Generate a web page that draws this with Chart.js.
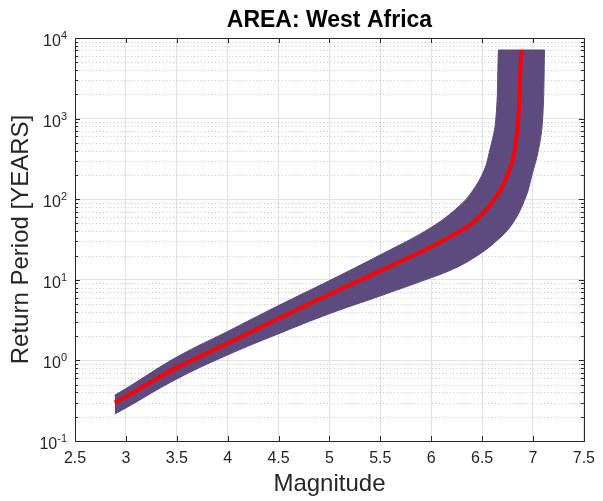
<!DOCTYPE html>
<html lang="en">
<head>
  <meta charset="UTF-8">
  <title>AREA: West Africa</title>
  <script src="https://cdn.jsdelivr.net/npm/chart.js@4.4.1/dist/chart.umd.min.js"></script>
  <style>
    body { margin: 0; background: #fff; }
    .wrap { width: 603px; height: 501px; position: relative; }
  </style>
</head>
<body>
  <div class="wrap"><canvas id="rp"></canvas></div>
  <script>
    // return period curve (red) - magnitude vs years
    const centerM = [2.89, 3.0, 3.25, 3.5, 3.75, 4.0, 4.25, 4.5, 5.0, 5.5, 6.0, 6.25, 6.44, 6.59, 6.68, 6.77, 6.82, 6.855, 6.884];
    const centerT = [0.30, 0.355, 0.543, 0.813, 1.15, 1.63, 2.32, 3.31, 6.61, 12.9, 25.7, 38.0, 55.2, 89.1, 130, 230, 407, 961, 7100];

    // band edges (upper = left/top edge, lower = right/bottom edge); upper runs on along the flat top
    const upperM = [2.89, 3.0, 3.5, 4.0, 4.5, 5.0, 5.5, 6.0, 6.28, 6.41, 6.52, 6.57, 6.634, 6.66, 6.66, 7.114];
    const upperT = [0.37, 0.447, 1.10, 2.29, 4.79, 9.77, 20.4, 44.7, 83.2, 129, 229, 380, 955, 7100, 7100, 7100];
    const lowerM = [2.89, 3.0, 3.5, 4.0, 4.5, 5.0, 5.5, 5.92, 6.21, 6.44, 6.63, 6.80, 6.93, 6.99, 7.055, 7.095, 7.114];
    const lowerT = [0.216, 0.257, 0.589, 1.17, 2.14, 3.80, 6.31, 9.77, 13.5, 19.5, 29.5, 50.1, 107, 200, 417, 1000, 7100];

    // axis ticks
    const decades = [0.1, 1, 10, 100, 1000, 10000];
    const decadeExp = ['-1', '0', '1', '2', '3', '4'];
    const minorVals = [];
    for (let d = -1; d < 4; d++) {
      for (let m = 2; m <= 9; m++) minorVals.push(m * Math.pow(10, d));
    }

    const font = "'Liberation Sans', Arial, sans-serif";
    const axisCol = '#262626';
    const bandCol = '#5e4b7d';

    const pts = (xs, ys) => xs.map((x, i) => ({ x: x, y: ys[i] }));

    // dotted minor grid, box, inward ticks, y labels with exponents, title
    const matlabFrame = {
      id: 'matlabFrame',
      beforeDatasetsDraw(chart) {
        const { ctx, chartArea: a, scales: { y } } = chart;
        ctx.save();
        ctx.strokeStyle = 'rgba(38,38,38,0.25)';
        ctx.lineWidth = 1;
        ctx.setLineDash([1, 2.5]);
        minorVals.forEach(v => {
          const py = Math.round(y.getPixelForValue(v)) + 0.5;
          ctx.beginPath();
          ctx.moveTo(a.left, py);
          ctx.lineTo(a.right, py);
          ctx.stroke();
        });
        ctx.restore();
      },
      afterDatasetsDraw(chart) {
        const { ctx, chartArea: a, scales: { x, y } } = chart;
        ctx.save();
        ctx.strokeStyle = axisCol;
        ctx.lineWidth = 1;
        ctx.strokeRect(Math.round(a.left) + 0.5, Math.round(a.top) + 0.5,
          Math.round(a.right - a.left), Math.round(a.bottom - a.top));
        ctx.beginPath();
        x.ticks.forEach(t => {
          const px = Math.round(x.getPixelForValue(t.value)) + 0.5;
          ctx.moveTo(px, a.bottom); ctx.lineTo(px, a.bottom - 5);
          ctx.moveTo(px, a.top); ctx.lineTo(px, a.top + 5);
        });
        decades.forEach(v => {
          const py = Math.round(y.getPixelForValue(v)) + 0.5;
          ctx.moveTo(a.left, py); ctx.lineTo(a.left + 5, py);
          ctx.moveTo(a.right, py); ctx.lineTo(a.right - 5, py);
        });
        minorVals.forEach(v => {
          const py = Math.round(y.getPixelForValue(v)) + 0.5;
          ctx.moveTo(a.left, py); ctx.lineTo(a.left + 3, py);
          ctx.moveTo(a.right, py); ctx.lineTo(a.right - 3, py);
        });
        ctx.stroke();

        // y tick labels: 10 with raised exponent
        ctx.fillStyle = axisCol;
        ctx.textBaseline = 'alphabetic';
        const rightEdge = a.left - 8;
        decades.forEach((v, i) => {
          const py = y.getPixelForValue(v);
          ctx.font = '11px ' + font;
          const ew = ctx.measureText(decadeExp[i]).width;
          ctx.textAlign = 'left';
          ctx.fillText(decadeExp[i], rightEdge - ew, py + 1);
          ctx.font = '16px ' + font;
          ctx.textAlign = 'right';
          ctx.fillText('10', rightEdge - ew, py + 8);
        });

        ctx.fillStyle = '#000';
        ctx.font = 'bold 23px ' + font;
        ctx.textAlign = 'center';
        ctx.textBaseline = 'middle';
        ctx.fillText('AREA: West Africa', (a.left + a.right) / 2, 21);
        ctx.restore();
      }
    };

    new Chart(document.getElementById('rp'), {
      type: 'line',
      data: {
        datasets: [
          {
            label: 'Return period',
            data: pts(centerM, centerT),
            borderColor: '#ff0000',
            borderWidth: 4,
            pointRadius: 0,
            fill: false,
            tension: 0.4
          },
          {
            label: 'upper',
            data: pts(upperM, upperT),
            borderColor: bandCol,
            backgroundColor: bandCol,
            borderWidth: 1,
            pointRadius: 0,
            fill: '+1',
            tension: 0.4
          },
          {
            label: 'lower',
            data: pts(lowerM, lowerT),
            borderColor: bandCol,
            borderWidth: 1,
            pointRadius: 0,
            fill: false,
            tension: 0.4
          }
        ]
      },
      options: {
        responsive: true,
        maintainAspectRatio: false,
        animation: false,
        layout: { padding: { top: 38, right: 14, left: 0, bottom: 0 } },
        plugins: {
          legend: { display: false },
          tooltip: { enabled: false },
          title: { display: false }
        },
        scales: {
          x: {
            type: 'linear',
            min: 2.5,
            max: 7.5,
            afterFit: s => { s.height = 60; },
            ticks: {
              stepSize: 0.5,
              padding: 8,
              color: axisCol,
              font: { family: font, size: 16 },
              callback: v => String(v),
              maxRotation: 0
            },
            grid: { color: '#e2e2e2', drawTicks: false },
            border: { display: false },
            title: {
              display: true,
              text: 'Magnitude',
              color: axisCol,
              font: { family: font, size: 24 },
              padding: 2
            }
          },
          y: {
            type: 'logarithmic',
            min: 0.1,
            max: 10000,
            afterFit: s => { s.width = 75; },
            afterBuildTicks: s => { s.ticks = decades.map(v => ({ value: v })); },
            ticks: { display: false },
            grid: { color: '#e2e2e2', drawTicks: false },
            border: { display: false },
            title: {
              display: true,
              text: 'Return Period [YEARS]',
              color: axisCol,
              font: { family: font, size: 24 },
              padding: 7
            }
          }
        }
      },
      plugins: [matlabFrame]
    });
  </script>
</body>
</html>
